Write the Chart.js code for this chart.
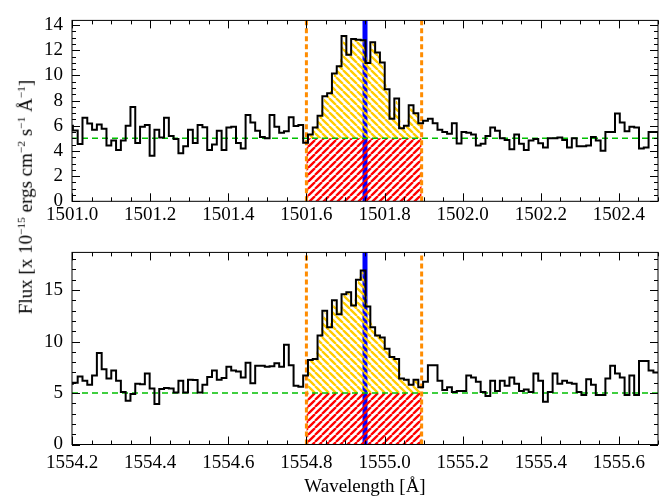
<!DOCTYPE html>
<html lang="en">
<head>
  <meta charset="UTF-8">
  <title>Flux vs Wavelength</title>
  <script src="https://cdn.jsdelivr.net/npm/chart.js"></script>
  <style>
    body { margin: 0; background: #fff; }
    #wrap { position: relative; width: 670px; height: 498px; font-family: "Liberation Serif", serif; }
    canvas { position: absolute; left: 0; }
    #top { top: 0; }
    #bot { top: 232px; }
    #ytitle {
      position: absolute; left: 26px; top: 197px;
      transform: translate(-50%, -50%) rotate(-90deg);
      white-space: nowrap; font-size: 19px; color: #000;
    }
    #ytitle sup { font-size: 0.6em; vertical-align: 0.65em; }
  </style>
</head>
<body>
<div id="wrap">
  <canvas id="top" width="670" height="232"></canvas>
  <canvas id="bot" width="670" height="266"></canvas>
  <div id="ytitle">Flux [x 10<sup>−15</sup> ergs cm<sup>−2</sup> s<sup>−1</sup> Å<sup>−1</sup>]</div>
</div>

<script>
  // spectra: flux per bin, first bin is cut by the left axis
  const binWidth = 0.01228;
  const binStartTop = 1500.990;
  const binStartBottom = 1554.190;

  const fluxTop = [6.0, 5.63, 4.56, 6.63, 6.18, 5.69, 6.11, 5.76, 4.44, 4.82, 4.07,
    4.82, 6.01, 7.5, 4.64, 5.93, 6.06, 3.62, 5.69, 5.06, 6.63,
    5.19, 4.94, 3.82, 4.37, 5.69, 4.64, 6.06, 5.88, 4.07, 4.52,
    5.61, 4.07, 5.86, 5.93, 4.64, 4.19, 6.85, 6.26, 5.61, 5.1,
    5.0, 6.85, 5.93, 5.44, 5.56, 6.68, 5.98, 6.06, 4.65, 5.3,
    5.86, 6.8, 8.34, 8.59, 10.15, 10.73, 13.14, 11.65, 12.89, 12.84,
    12.8, 10.98, 12.64, 11.82, 11.03, 8.91, 6.56, 8.17, 5.8, 6.0,
    7.63, 7.0, 6.2, 6.4, 6.55, 6.2, 5.69, 5.5, 5.36, 6.2,
    4.6, 5.51, 5.44, 5.31, 4.44, 4.57, 5.19, 5.86, 5.61, 5.01,
    4.87, 4.14, 5.31, 4.57, 4.07, 4.82, 4.94, 4.62, 4.27, 5.01,
    5.01, 5.06, 4.87, 4.27, 5.01, 4.37, 4.37, 4.44, 5.11, 4.82,
    4.02, 5.51, 5.51, 6.98, 6.26, 5.56, 5.93, 5.86, 4.2, 4.27,
    5.51, 5.51, 3.52];

  const fluxBottom = [5.9, 6.0, 6.6, 6.2, 5.8, 6.7, 8.9, 7.3, 6.4, 7.2, 6.2,
    5.1, 4.26, 4.9, 5.9, 5.85, 6.9, 5.45, 3.93, 5.4, 5.5,
    5.45, 5.05, 6.2, 5.05, 6.3, 6.26, 5.06, 5.8, 6.55, 7.2,
    6.3, 6.45, 7.55, 7.2, 7.1, 6.5, 7.94, 5.95, 7.66, 7.66,
    7.55, 7.6, 7.9, 7.55, 9.7, 7.7, 5.7, 5.6, 6.7, 8.2,
    8.3, 10.6, 13.0, 11.4, 14.0, 12.65, 14.6, 14.8, 13.5, 16.0,
    16.9, 13.4, 11.4, 10.6, 10.4, 9.3, 8.5, 8.3, 6.4, 6.3,
    5.8, 6.3, 5.55, 6.1, 7.7, 7.7, 6.2, 5.3, 5.55, 5.1,
    5.2, 5.2, 6.7, 6.5, 6.1, 5.1, 4.7, 6.2, 5.2, 6.2,
    5.7, 6.5, 5.9, 5.2, 5.35, 5.1, 6.9, 6.2, 4.15, 5.1,
    6.9, 5.9, 6.2, 6.0, 5.9, 5.1, 4.8, 6.35, 5.8, 4.8,
    4.8, 6.4, 7.65, 6.9, 6.5, 4.8, 6.7, 4.8, 8.1, 8.1,
    7.2, 7.0];

  const xTicksTop = [1501.0, 1501.2, 1501.4, 1501.6, 1501.8, 1502.0, 1502.2, 1502.4];
  const xTicksBottom = [1554.2, 1554.4, 1554.6, 1554.8, 1555.0, 1555.2, 1555.4, 1555.6];
  const yTicksTop = [0, 2, 4, 6, 8, 10, 12, 14];
  const yTicksBottom = [0, 5, 10, 15];

  const continuum = 5;
  const windowTop = [1501.600, 1501.895];
  const windowBottom = [1554.800, 1555.095];
  const lineTop = 1501.750;
  const lineBottom = 1554.950;

  const FONT = 'Liberation Serif';

  function hatch(ctx, color, dir) {
    const s = 7;
    const c = document.createElement('canvas');
    c.width = s; c.height = s;
    const g = c.getContext('2d');
    g.strokeStyle = color;
    g.lineWidth = 2.3;
    g.beginPath();
    for (const o of [-s, 0, s]) {
      if (dir > 0) { g.moveTo(o, s); g.lineTo(o + s, 0); }
      else { g.moveTo(o, 0); g.lineTo(o + s, s); }
    }
    g.stroke();
    return ctx.createPattern(c, 'repeat');
  }

  function steps(start, flux) {
    const pts = flux.map((v, i) => ({ x: start + i * binWidth, y: v }));
    pts.push({ x: start + flux.length * binWidth, y: flux[flux.length - 1] });
    return pts;
  }

  // polygon through bin centres inside the line window
  function emission(start, flux, win) {
    const pts = [{ x: win[0], y: continuum }];
    flux.forEach((v, i) => {
      const c = start + (i + 0.5) * binWidth;
      if (c > win[0] && c < win[1]) pts.push({ x: c, y: v });
    });
    pts.push({ x: win[1], y: continuum });
    return pts;
  }

  // box with inward ticks on all four sides
  const frame = {
    id: 'frame',
    afterDatasetsDraw(chart, args, opts) {
      const { ctx, chartArea: a, scales: { x, y } } = chart;
      ctx.save();
      ctx.strokeStyle = '#000';
      ctx.lineWidth = 1;
      ctx.strokeRect(a.left, a.top, a.right - a.left, a.bottom - a.top);
      ctx.beginPath();
      const nx = Math.round((x.max - x.min) / opts.xMinor);
      for (let i = 0; i <= nx; i++) {
        const v = x.min + i * opts.xMinor;
        const major = opts.xMajor.some(t => Math.abs(t - v) < 1e-6);
        const len = major ? 8 : 4;
        const px = Math.round(x.getPixelForValue(v)) + 0.5;
        ctx.moveTo(px, a.bottom); ctx.lineTo(px, a.bottom - len);
        ctx.moveTo(px, a.top); ctx.lineTo(px, a.top + len);
      }
      const ny = Math.floor((y.max - y.min) / opts.yMinor + 1e-6);
      for (let i = 0; i <= ny; i++) {
        const v = y.min + i * opts.yMinor;
        const major = opts.yMajor.some(t => Math.abs(t - v) < 1e-6);
        const len = major ? 8 : 4;
        const py = Math.round(y.getPixelForValue(v)) + 0.5;
        ctx.moveTo(a.left, py); ctx.lineTo(a.left + len, py);
        ctx.moveTo(a.right, py); ctx.lineTo(a.right - len, py);
      }
      ctx.stroke();
      ctx.restore();
    }
  };

  function panel(id, p) {
    const ctx = document.getElementById(id).getContext('2d');
    const ymax = p.ymax;
    return new Chart(ctx, {
      type: 'line',
      data: {
        datasets: [
          { data: steps(p.start, p.flux), borderColor: '#000', borderWidth: 2, stepped: 'before', order: 0 },
          { data: [{ x: p.win[0], y: 0 }, { x: p.win[0], y: ymax }], borderColor: '#ff8c00', borderWidth: 3, borderDash: [5, 3], order: 1 },
          { data: [{ x: p.win[1], y: 0 }, { x: p.win[1], y: ymax }], borderColor: '#ff8c00', borderWidth: 3, borderDash: [5, 3], order: 1 },
          { data: [{ x: p.xmin, y: continuum }, { x: p.xmax, y: continuum }], borderColor: '#00c000', borderWidth: 1.5, borderDash: [6, 4], order: 2 },
          { data: emission(p.start, p.flux, p.win), borderColor: 'transparent', borderWidth: 0,
            fill: { value: continuum }, backgroundColor: hatch(ctx, '#ffcc00', -1), order: 3 },
          { data: [{ x: p.win[0], y: continuum }, { x: p.win[1], y: continuum }], borderColor: 'transparent', borderWidth: 0,
            fill: { value: 0 }, backgroundColor: hatch(ctx, '#ff0000', 1), order: 4 },
          { data: [{ x: p.line, y: 0 }, { x: p.line, y: ymax }], borderColor: '#0000ff', borderWidth: 5, order: 5 }
        ]
      },
      options: {
        responsive: false,
        animation: false,
        elements: { point: { radius: 0 }, line: { tension: 0 } },
        layout: { padding: { left: 0, right: 12, top: p.padTop, bottom: 0 } },
        plugins: {
          legend: { display: false },
          tooltip: { enabled: false },
          frame: { xMinor: 0.05, xMajor: p.xTicks, yMinor: p.yMinor, yMajor: p.yTicks }
        },
        scales: {
          x: {
            type: 'linear', min: p.xmin, max: p.xmax,
            afterBuildTicks: s => { s.ticks = p.xTicks.map(v => ({ value: v })); },
            afterFit: s => { s.height = p.xHeight; },
            grid: { display: false, drawTicks: false },
            border: { display: false },
            ticks: { padding: p.xPad, maxRotation: 0, autoSkip: false, color: '#000',
              font: { family: FONT, size: 19 }, callback: v => v.toFixed(1) },
            title: { display: !!p.xTitle, text: p.xTitle || '', color: '#000',
              font: { family: FONT, size: 19 }, padding: { top: 0, bottom: 0 } }
          },
          y: {
            type: 'linear', min: 0, max: ymax,
            afterBuildTicks: s => { s.ticks = p.yTicks.map(v => ({ value: v })); },
            afterFit: s => { s.width = 72; },
            grid: { display: false, drawTicks: false },
            border: { display: false },
            ticks: { padding: 9, color: '#000', font: { family: FONT, size: 19 } }
          }
        }
      },
      plugins: [frame]
    });
  }

  panel('top', {
    start: binStartTop, flux: fluxTop, win: windowTop, line: lineTop,
    xmin: 1501.0, xmax: 1502.5, ymax: 14.37,
    xTicks: xTicksTop, yTicks: yTicksTop, yMinor: 0.5,
    padTop: 8.3, xHeight: 30.7, xPad: 2
  });

  panel('bot', {
    start: binStartBottom, flux: fluxBottom, win: windowBottom, line: lineBottom,
    xmin: 1554.2, xmax: 1555.7, ymax: 18.66,
    xTicks: xTicksBottom, yTicks: yTicksBottom, yMinor: 1,
    padTop: 20.3, xHeight: 53.5, xPad: 7, xTitle: 'Wavelength [Å]'
  });
</script>
</body>
</html>
